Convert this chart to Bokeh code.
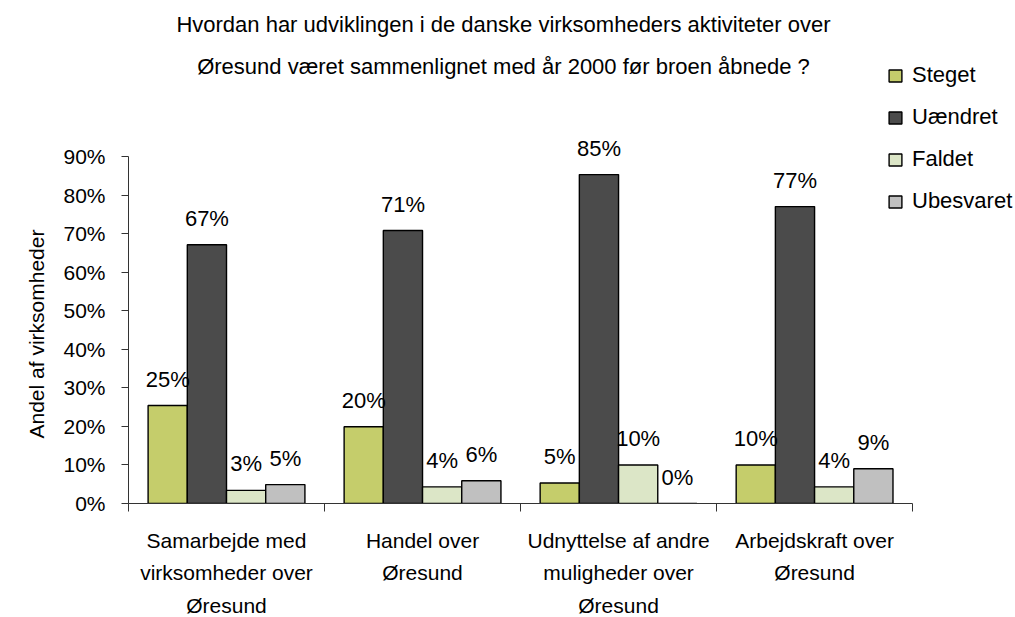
from bokeh.plotting import figure
from bokeh.models import (Range1d, LinearAxis, FixedTicker, ColumnDataSource, Title,
                          Legend, LegendItem, Label, LabelSet, PrintfTickFormatter)
from bokeh.core.properties import value
from bokeh.transform import dodge
from bokeh.embed import file_html
from bokeh.resources import INLINE

categories = ["Samarbejde med\nvirksomheder over\nØresund",
              "Handel over\nØresund",
              "Udnyttelse af andre\nmuligheder over\nØresund",
              "Arbejdskraft over\nØresund"]
series_names = ["Steget", "Uændret", "Faldet", "Ubesvaret"]
steget = [25.4, 19.9, 5.3, 10.0]
uaendret = [67.1, 70.8, 85.3, 77.0]
faldet = [3.4, 4.3, 10.0, 4.3]
ubesvaret = [4.9, 5.9, 0.0, 9.0]
y_ticks = [0, 10, 20, 30, 40, 50, 60, 70, 80, 90]
title_lines = ["Hvordan har udviklingen i de danske virksomheders aktiviteter over",
               "Øresund været sammenlignet med år 2000 før broen åbnede ?"]
y_title = "Andel af virksomheder"
colors = ["#C5CD6B", "#4B4B4B", "#DCE6C7", "#C0C0C0"]

FONT = "Liberation Sans"
n = len(categories)
centers = [i + 0.5 for i in range(n)]
keys = ["s0", "s1", "s2", "s3"]
values = [steget, uaendret, faldet, ubesvaret]
data = {"xc": centers}
for k, v in zip(keys, values):
    data[k] = v
    data[k + "_lbl"] = [f"{x:.0f}%" for x in v]
src = ColumnDataSource(data)

# frame covers title/legend area so annotations are not clipped;
# axes are bounded to the data region
p = figure(x_range=Range1d(0, 4.525), y_range=Range1d(0, 130.46),
           frame_width=887, frame_height=503,
           min_border_left=128, min_border_right=0, min_border_top=0, min_border_bottom=10,
           output_backend="svg", toolbar_location=None,
           x_axis_location=None, y_axis_location="left")
p.outline_line_color = None
p.xgrid.visible = False
p.ygrid.visible = False
p.background_fill_color = "white"
p.border_fill_color = "white"

# y axis
ya = p.yaxis[0]
ya.ticker = FixedTicker(ticks=y_ticks)
ya.bounds = (0, 90)
ya.formatter = PrintfTickFormatter(format="%d%%")
ya.minor_tick_line_color = None
ya.major_tick_in = 0
ya.major_tick_out = 7
ya.axis_line_color = "#333333"
ya.major_tick_line_color = "#333333"
ya.major_label_text_font = FONT
ya.major_label_text_font_size = "21px"
ya.major_label_text_color = "black"
ya.major_label_standoff = 16

# y axis title (as a side title so it can be centred on the 0-90% span)
yt = Title(text=y_title, align="left", offset=65, standoff=26,
           text_font=FONT, text_font_size="21px", text_font_style="normal", text_color="black")
p.add_layout(yt, "left")

# x axis: boundary ticks
bounds = list(range(n + 1))
xb = LinearAxis(ticker=FixedTicker(ticks=bounds))
xb.bounds = (0, n)
xb.major_label_overrides = {b: "" for b in bounds}
xb.major_label_text_font_size = "1px"
xb.major_label_standoff = 0
xb.major_tick_in = 0
xb.major_tick_out = 8
xb.minor_tick_line_color = None
xb.axis_line_color = "#333333"
xb.major_tick_line_color = "#333333"
p.add_layout(xb, "below")

# x axis: category labels
xc = LinearAxis(ticker=FixedTicker(ticks=centers))
xc.major_label_overrides = {c: lab for c, lab in zip(centers, categories)}
xc.axis_line_color = None
xc.major_tick_line_color = None
xc.minor_tick_line_color = None
xc.major_tick_out = 0
xc.major_tick_in = 0
xc.major_label_standoff = 17
xc.major_label_text_font = FONT
xc.major_label_text_font_size = "21px"
xc.major_label_text_color = "black"
xc.major_label_text_line_height = 1.43
p.add_layout(xc, "below")

offsets = [-0.3, -0.1, 0.1, 0.3]
renderers = []
for k, off, c in zip(keys, offsets, colors):
    r = p.vbar(x=dodge("xc", off), top=k, width=0.2, source=src,
               fill_color=c, line_color="black", line_width=1.4)
    renderers.append(r)
    ls = LabelSet(x=dodge("xc", off), y=k, text=k + "_lbl", source=src,
                  text_align="center", text_baseline="alphabetic", y_offset=19,
                  text_font=value(FONT), text_font_size=value("22px"), text_color="black")
    p.add_layout(ls)

legend = Legend(items=[LegendItem(label=nm, renderers=[r]) for nm, r in zip(series_names, renderers)],
                location=(759, 289), orientation="vertical",
                border_line_color=None, background_fill_alpha=0,
                padding=0, margin=0, spacing=16,
                glyph_height=15, glyph_width=16, label_height=24, label_standoff=9,
                label_text_font=FONT, label_text_font_size="22px", label_text_color="black")
p.add_layout(legend)

for line, yv in zip(title_lines, [124.2, 113.3]):
    p.add_layout(Label(x=1.913, y=yv, text=line, text_align="center", text_baseline="alphabetic",
                       text_font=FONT, text_font_size="22px", text_color="black"))

open("out.html", "w").write(file_html(p, INLINE))
